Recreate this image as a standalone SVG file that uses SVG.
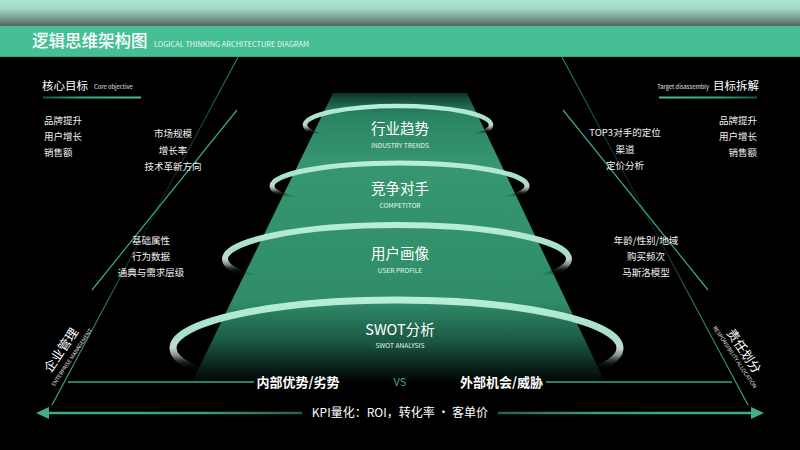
<svg xmlns="http://www.w3.org/2000/svg" width="800" height="450" viewBox="0 0 800 450">
<defs>
<style>
text{font-family:"Noto Sans CJK SC","Noto Sans",sans-serif;fill:#fff}
.title{font-size:16.5px;font-weight:500}
.entitle{font-size:7.4px;fill:#eaf7f1}
.h{font-size:11.5px}
.hs{font-size:5.8px;fill:#e0e0e0}
.li{font-size:9.5px;fill:#f2f2f2}
.rl{font-size:14.5px;text-anchor:middle}
.re{font-size:6.6px;text-anchor:middle;fill:#e8f5ef}
.mid{text-anchor:middle}
.end{text-anchor:end}
.cmp{font-size:13px;font-weight:bold;text-anchor:middle}
.vs{font-size:11px;fill:#3aa884;text-anchor:middle}
.kpi{font-size:12px;text-anchor:middle}
.rot{font-size:12.5px;text-anchor:middle}
.rots{font-size:5.3px;text-anchor:middle;fill:#e6e6e6}
.ring{fill:none;stroke:url(#ringGrad)}
.bright{stroke:#3aa884;stroke-width:1.2;fill:none}
</style>
<linearGradient id="topFade" x1="0" y1="0" x2="0" y2="1">
<stop offset="0" stop-color="#aae3ce"/>
<stop offset="0.35" stop-color="#a2d9c4"/>
<stop offset="1" stop-color="#55645d"/>
</linearGradient>
<linearGradient id="pyrGrad" gradientUnits="userSpaceOnUse" x1="0" y1="93" x2="0" y2="382">
<stop offset="0" stop-color="#0c3527"/>
<stop offset="0.07" stop-color="#2a8363"/>
<stop offset="0.25" stop-color="#36976f"/>
<stop offset="0.72" stop-color="#308c6a"/>
<stop offset="0.86" stop-color="#1a5842"/>
<stop offset="1" stop-color="#010302"/>
</linearGradient>
<linearGradient id="ringGrad" x1="0" y1="0" x2="0" y2="1">
<stop offset="0" stop-color="#b8eed8"/>
<stop offset="0.35" stop-color="#a6e0c8"/>
<stop offset="0.5" stop-color="#c4d6ce"/>
<stop offset="0.58" stop-color="#7f8e88"/>
<stop offset="0.66" stop-color="#1e2824" stop-opacity="0.55"/>
<stop offset="0.74" stop-color="#000" stop-opacity="0"/>
</linearGradient>
<linearGradient id="ulLeft" x1="0" y1="0" x2="1" y2="0">
<stop offset="0" stop-color="#3aa884" stop-opacity="0.5"/>
<stop offset="0.4" stop-color="#3aa884"/>
<stop offset="1" stop-color="#52b892"/>
</linearGradient>
<linearGradient id="ulRight" x1="0" y1="0" x2="1" y2="0">
<stop offset="0" stop-color="#52b892"/>
<stop offset="0.6" stop-color="#3aa884"/>
<stop offset="1" stop-color="#3aa884" stop-opacity="0.5"/>
</linearGradient>
<linearGradient id="arrL" gradientUnits="userSpaceOnUse" x1="48" y1="0" x2="302" y2="0">
<stop offset="0" stop-color="#3fae88"/>
<stop offset="0.6" stop-color="#37a07d"/>
<stop offset="1" stop-color="#27604b"/>
</linearGradient>
<linearGradient id="arrR" gradientUnits="userSpaceOnUse" x1="498" y1="0" x2="752" y2="0">
<stop offset="0" stop-color="#27604b"/>
<stop offset="0.4" stop-color="#37a07d"/>
<stop offset="1" stop-color="#3fae88"/>
</linearGradient>
<linearGradient id="diagL" gradientUnits="userSpaceOnUse" x1="238" y1="57" x2="52" y2="405">
<stop offset="0" stop-color="#3aa884" stop-opacity="0.75"/>
<stop offset="0.25" stop-color="#2a6e58" stop-opacity="0.5"/>
<stop offset="0.5" stop-color="#1c4a3b" stop-opacity="0.35"/>
<stop offset="0.7" stop-color="#2f8a6c" stop-opacity="0.8"/>
<stop offset="1" stop-color="#3fae88"/>
</linearGradient>
<linearGradient id="diagR" gradientUnits="userSpaceOnUse" x1="562" y1="57" x2="748" y2="405">
<stop offset="0" stop-color="#3aa884" stop-opacity="0.75"/>
<stop offset="0.25" stop-color="#2a6e58" stop-opacity="0.5"/>
<stop offset="0.5" stop-color="#1c4a3b" stop-opacity="0.35"/>
<stop offset="0.7" stop-color="#2f8a6c" stop-opacity="0.8"/>
<stop offset="1" stop-color="#3fae88"/>
</linearGradient>
<marker id="arrowHead" viewBox="0 0 13 12" refX="1" refY="6" markerWidth="13" markerHeight="12" markerUnits="userSpaceOnUse" orient="auto-start-reverse">
<path d="M0,0 L13,6 L0,12 Z" fill="#3fae88"/>
</marker>
</defs>

<rect width="800" height="450" fill="#000"/>

<g id="header">
<rect x="0" y="0" width="800" height="26" fill="url(#topFade)"/>
<rect x="0" y="26" width="800" height="31" fill="#45bf93"/>
<rect x="0" y="56" width="800" height="1" fill="#3aa884"/>
<text class="title" x="32" y="47">逻辑思维架构图</text>
<text class="entitle" x="154" y="47">LOGICAL THINKING ARCHITECTURE DIAGRAM</text>
</g>

<g id="pyramid">
<polygon points="333,93 467,93 605,382 192,382" fill="url(#pyrGrad)"/>
</g>

<g id="connectors">
<line x1="238" y1="57" x2="52" y2="405" stroke="url(#diagL)" stroke-width="1.2"/>
<line x1="562" y1="57" x2="748" y2="405" stroke="url(#diagR)" stroke-width="1.2"/>
<line class="bright" x1="237" y1="110" x2="92" y2="290"/>
<line class="bright" x1="563" y1="110" x2="708" y2="290"/>
<line x1="68" y1="382" x2="254" y2="382" stroke="#3aa884" stroke-width="1.6"/>
<line x1="546" y1="382" x2="732" y2="382" stroke="#3aa884" stroke-width="1.6"/>
<line x1="302" y1="413" x2="48" y2="413" stroke="url(#arrL)" stroke-width="2.4" marker-end="url(#arrowHead)"/>
<line x1="498" y1="413" x2="752" y2="413" stroke="url(#arrR)" stroke-width="2.4" marker-end="url(#arrowHead)"/>
</g>

<g id="node-industry">
<ellipse class="ring" cx="398" cy="125" rx="93" ry="19" stroke-width="4.5"/>
<text class="rl" x="400" y="134">行业趋势</text>
<text class="re" x="400" y="148">INDUSTRY TRENDS</text>
</g>
<g id="node-competitor">
<ellipse class="ring" cx="399.5" cy="186" rx="127.5" ry="23" stroke-width="5"/>
<text class="rl" x="400" y="194">竞争对手</text>
<text class="re" x="400" y="208">COMPETITOR</text>
</g>
<g id="node-user">
<ellipse class="ring" cx="397" cy="259" rx="172" ry="34" stroke-width="6"/>
<text class="rl" x="400" y="259">用户画像</text>
<text class="re" x="400" y="273">USER PROFILE</text>
</g>
<g id="node-swot">
<ellipse class="ring" cx="396.5" cy="348" rx="223.5" ry="48" stroke-width="7"/>
<text class="rl" x="400" y="335">SWOT分析</text>
<text class="re" x="400" y="348">SWOT ANALYSIS</text>
</g>

<g id="left-panel">
<text class="h" x="42" y="90">核心目标</text>
<text class="hs" x="94" y="89">Core objective</text>
<rect x="43" y="96.5" width="98" height="2" fill="url(#ulLeft)"/>
<text class="li" x="44" y="124">品牌提升</text>
<text class="li" x="44" y="140">用户增长</text>
<text class="li" x="44" y="156">销售额</text>
<text class="li mid" x="173" y="137">市场规模</text>
<text class="li mid" x="173" y="154">增长率</text>
<text class="li mid" x="173" y="170">技术革新方向</text>
<text class="li mid" x="151" y="244">基础属性</text>
<text class="li mid" x="151" y="260">行为数据</text>
<text class="li mid" x="151" y="276">通典与需求层级</text>
</g>

<g id="right-panel">
<text class="hs end" x="709" y="89">Target disassembly</text>
<text class="h" x="713" y="90">目标拆解</text>
<rect x="659" y="96.5" width="98" height="2" fill="url(#ulRight)"/>
<text class="li end" x="757" y="124">品牌提升</text>
<text class="li end" x="757" y="140">用户增长</text>
<text class="li end" x="757" y="156">销售额</text>
<text class="li mid" x="625" y="136">TOP3对手的定位</text>
<text class="li mid" x="625" y="153">渠道</text>
<text class="li mid" x="625" y="169">定价分析</text>
<text class="li mid" x="646" y="244">年龄/性别/地域</text>
<text class="li mid" x="646" y="260">购买频次</text>
<text class="li mid" x="646" y="276">马斯洛模型</text>
</g>

<g id="label-enterprise" transform="translate(61,350) rotate(-56)">
<text class="rot" x="0" y="4.5">企业管理</text>
<text class="rots" x="0" y="15">ENTERPRISE MANAGEMENT</text>
</g>
<g id="label-responsibility" transform="translate(744,351) rotate(56)">
<text class="rot" x="0" y="4.5">责任划分</text>
<text class="rots" x="0" y="13">RESPONSIBILITY ALLOCATION</text>
</g>

<g id="comparison">
<text class="cmp" x="298" y="387">内部优势/劣势</text>
<text class="vs" x="400" y="386">VS</text>
<text class="cmp" x="501.5" y="387">外部机会/威胁</text>
</g>

<g id="kpi">
<text class="kpi" x="400" y="417">KPI量化：ROI，转化率 · 客单价</text>
</g>
</svg>
